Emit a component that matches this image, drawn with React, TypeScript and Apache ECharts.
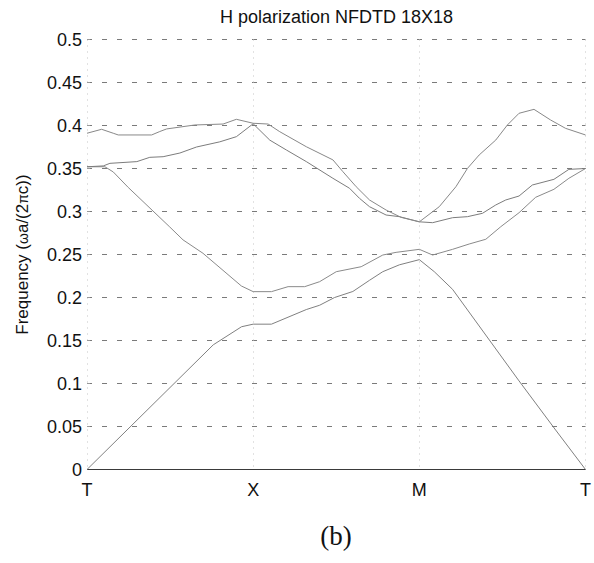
import React, { useEffect, useRef } from "react";
import * as echarts from "echarts";

// k-path: T = 0, X = 1, M = 2, T = 3
const kLabels = ["T", "X", "M", "T"];
const yTicks = [0, 0.05, 0.1, 0.15, 0.2, 0.25, 0.3, 0.35, 0.4, 0.45, 0.5];

const band0: [number, number][] = [
  [0, 0], [3, 0],
];

const band1: [number, number][] = [
  [0, 0], [0.76, 0.145], [0.93, 0.166], [1.0, 0.169], [1.11, 0.169],
  [1.32, 0.186], [1.4, 0.191], [1.49, 0.2], [1.6, 0.207], [1.7, 0.22],
  [1.78, 0.23], [1.88, 0.238], [2.0, 0.244], [2.09, 0.23], [2.2, 0.2095],
  [2.6, 0.103], [2.82, 0.046], [3.0, 0],
];

const band2: [number, number][] = [
  [0, 0.352], [0.108, 0.352], [0.158, 0.346], [0.248, 0.328], [0.498, 0.282],
  [0.578, 0.267], [0.698, 0.2514], [0.929, 0.2134], [1.0, 0.2068], [1.11, 0.2068],
  [1.21, 0.2126], [1.31, 0.2126], [1.4, 0.2184], [1.5, 0.23], [1.65, 0.2358],
  [1.78, 0.2494], [1.86, 0.2525], [2.0, 0.256], [2.08, 0.2494], [2.2, 0.256],
  [2.3, 0.2622], [2.4, 0.2677], [2.49, 0.2823], [2.6, 0.2986], [2.7, 0.3165],
  [2.81, 0.3258], [2.9, 0.3386], [3.0, 0.35],
];

const band3: [number, number][] = [
  [0, 0.352], [0.098, 0.353], [0.138, 0.356], [0.3, 0.358], [0.378, 0.363],
  [0.458, 0.3637], [0.559, 0.368], [0.659, 0.375], [0.799, 0.381], [0.899, 0.387],
  [1.0, 0.402], [1.1, 0.383], [1.2, 0.3715], [1.32, 0.358], [1.48, 0.3386],
  [1.58, 0.327], [1.64, 0.3153], [1.7, 0.3056], [1.8, 0.2959], [1.88, 0.294],
  [2.0, 0.288], [2.08, 0.287], [2.2, 0.2928], [2.29, 0.294], [2.38, 0.2979],
  [2.46, 0.3076], [2.52, 0.3134], [2.6, 0.318], [2.68, 0.3308], [2.81, 0.3374],
  [2.9, 0.349], [3.0, 0.35],
];

const band4: [number, number][] = [
  [0, 0.391], [0.088, 0.3956], [0.158, 0.391], [0.188, 0.389], [0.389, 0.389],
  [0.438, 0.393], [0.479, 0.396], [0.649, 0.4006], [0.819, 0.4017], [0.899, 0.4072],
  [1.0, 0.4026], [1.09, 0.4017], [1.16, 0.3928], [1.32, 0.3753], [1.48, 0.36],
  [1.54, 0.3463], [1.62, 0.3288], [1.7, 0.3134], [1.8, 0.3017], [1.89, 0.2932],
  [2.0, 0.288], [2.12, 0.3056], [2.22, 0.3288], [2.29, 0.3502], [2.36, 0.3657],
  [2.46, 0.3831], [2.53, 0.4006], [2.6, 0.4142], [2.69, 0.4188], [2.79, 0.4064],
  [2.88, 0.3967], [3.0, 0.389],
];

const bands = [band0, band1, band2, band3, band4];
const bandColors = ["#3a3a3a", "#808080", "#8a8a8a", "#7c7c7c", "#888888"];

const SANS = "'Liberation Sans', Arial, sans-serif";
const SERIF = "'Liberation Serif', 'Times New Roman', serif";

export default function App() {
  const ref = useRef<HTMLDivElement>(null);

  useEffect(() => {
    if (!ref.current) return;
    const chart = echarts.init(ref.current, null, { renderer: "svg" });
    chart.setOption({
      animation: false,
      backgroundColor: "#ffffff",
      grid: { left: 87, right: 7.5, top: 39.5, bottom: 93.5, containLabel: false },
      graphic: [
        {
          type: "text",
          x: 336.5,
          y: 17,
          style: {
            text: "H polarization NFDTD 18X18",
            font: `18px ${SANS}`,
            fill: "#111",
            textAlign: "center",
            textVerticalAlign: "middle",
          },
        },
        {
          type: "text",
          x: 336,
          y: 536,
          style: {
            text: "(b)",
            font: `27px ${SERIF}`,
            fill: "#111",
            textAlign: "center",
            textVerticalAlign: "middle",
          },
        },
      ],
      xAxis: {
        type: "value",
        min: 0,
        max: 3,
        interval: 1,
        axisLine: { show: false },
        axisTick: { show: false },
        axisLabel: {
          margin: 11,
          fontFamily: SANS,
          fontSize: 18,
          color: "#111",
          formatter: (v: number) => kLabels[Math.round(v)] ?? "",
        },
        splitLine: { show: true, lineStyle: { color: "#c4c4c4", type: [1, 5], width: 1 } },
      },
      yAxis: {
        type: "value",
        min: 0,
        max: 0.5,
        interval: 0.05,
        name: "{a|Frequency (}{s|ω}{a|a/(2}{s|π}{a|c))}",
        nameLocation: "middle",
        nameGap: 56,
        nameRotate: 90,
        nameTextStyle: {
          rich: {
            a: { fontFamily: SANS, fontSize: 17, color: "#111" },
            s: { fontFamily: SANS, fontSize: 14, color: "#111" },
          },
        },
        axisLine: { show: false },
        axisTick: { show: true, length: 3, inside: true, lineStyle: { color: "#999" } },
        axisLabel: {
          margin: 5,
          fontFamily: SANS,
          fontSize: 18,
          color: "#111",
          formatter: (v: number) => {
            const match = yTicks.find((t) => Math.abs(t - v) < 1e-9);
            return match === undefined ? "" : String(match);
          },
        },
        splitLine: { show: true, lineStyle: { color: "#7a7a7a", type: [5, 10], width: 1 } },
      },
      series: bands.map((b, i) => ({
        type: "line",
        data: b,
        symbol: "none",
        silent: true,
        lineStyle: { color: bandColors[i], width: 1 },
        z: 3,
      })),
    });
    return () => chart.dispose();
  }, []);

  return <div ref={ref} style={{ width: 594, height: 563, position: "absolute", left: 0, top: 0 }} />;
}
